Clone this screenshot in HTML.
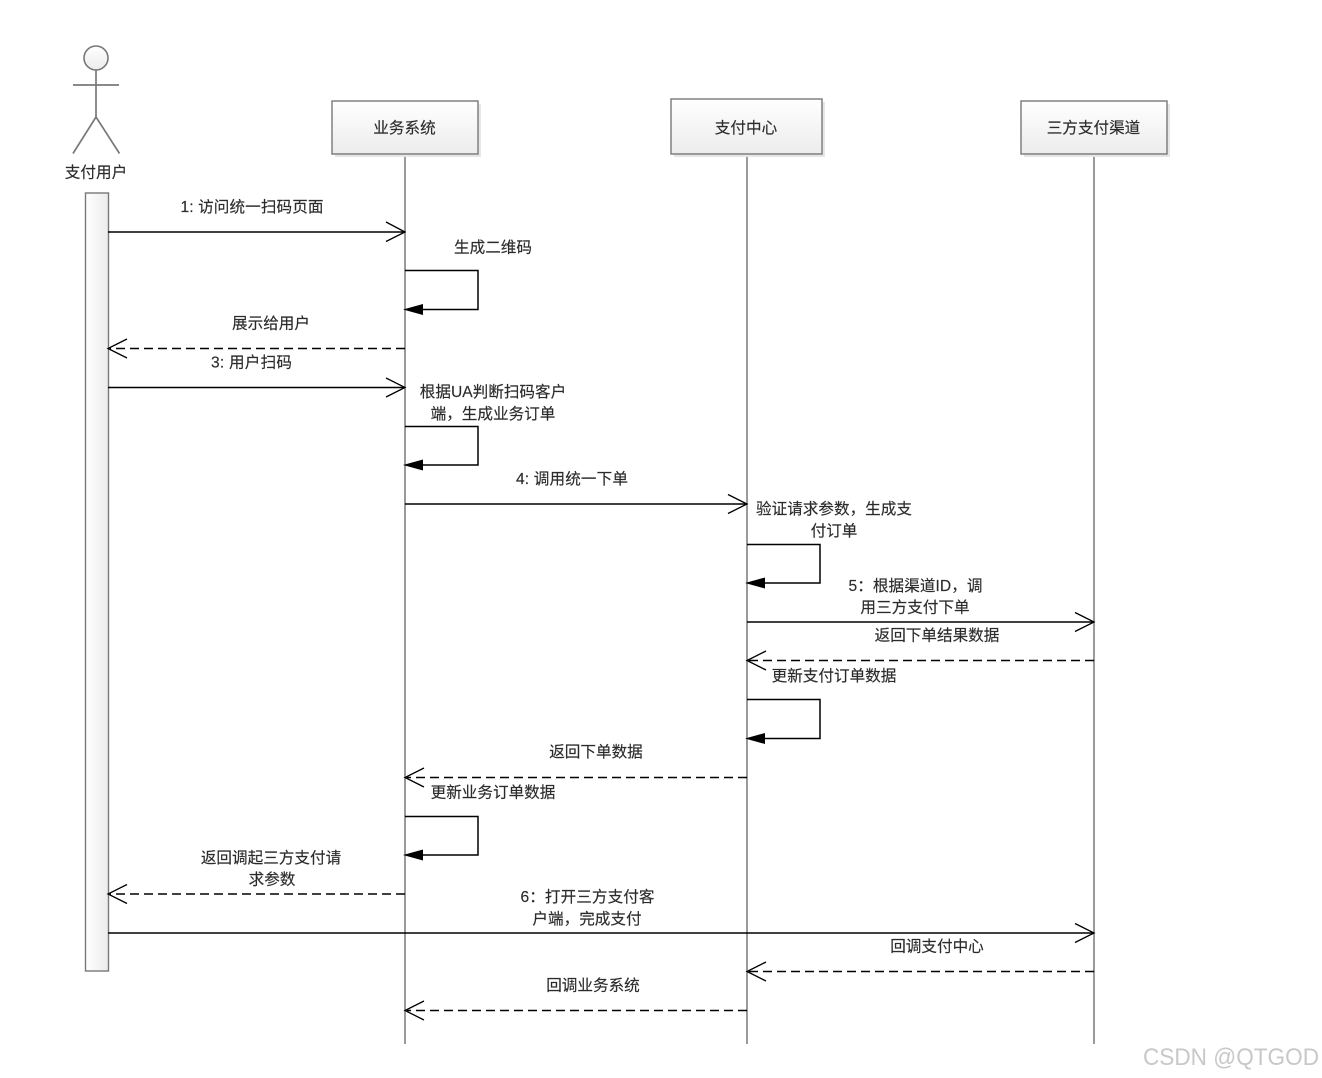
<!DOCTYPE html>
<html>
<head>
<meta charset="utf-8">
<style>
html,body{margin:0;padding:0;background:#fff;}
svg{display:block;}
text{font-family:"Liberation Sans","Noto Sans CJK SC",sans-serif;font-size:15.6px;fill:#2b2b2b;stroke:#2b2b2b;stroke-width:0.15;text-anchor:middle;}
.life{stroke:#787878;stroke-width:1.5;fill:none;}
.m{stroke:#000;stroke-width:1.5;fill:none;}
.d{stroke:#000;stroke-width:1.5;fill:none;stroke-dasharray:9 5;}
.h{stroke:#000;stroke-width:1.3;fill:none;}
.f{fill:#000;stroke:none;}
.box{fill:url(#g);stroke:#787878;stroke-width:1.4;}
.shadow{fill:#e6e6e6;stroke:none;}
.a{stroke:#787878;stroke-width:1.7;fill:none;}
</style>
</head>
<body>
<svg width="1322" height="1078" viewBox="0 0 1322 1078" xmlns="http://www.w3.org/2000/svg">
<defs>
<linearGradient id="g" x1="0" y1="0" x2="0" y2="1"><stop offset="0" stop-color="#ffffff"/><stop offset="1" stop-color="#ececec"/></linearGradient>
<linearGradient id="gb" x1="0" y1="0" x2="1" y2="0"><stop offset="0" stop-color="#ffffff"/><stop offset="1" stop-color="#ececec"/></linearGradient>
</defs>

<!-- Lifelines -->
<line class="life" x1="405" y1="154" x2="405" y2="1044"/>
<line class="life" x1="747" y1="154" x2="747" y2="1044"/>
<line class="life" x1="1094" y1="154" x2="1094" y2="1044"/>

<!-- Actor -->
<circle cx="96" cy="58" r="12" fill="url(#g)" stroke="#787878" stroke-width="1.6"/>
<line class="a" x1="96" y1="70" x2="96" y2="117"/>
<line class="a" x1="73" y1="85" x2="119" y2="85"/>
<path class="a" d="M73 153.500L96 117L119.500 153.500"/>
<text x="96" y="177.500">支付用户</text>

<!-- Boxes -->
<rect class="shadow" x="335" y="104" width="146" height="53"/>
<rect class="box" x="332" y="101" width="146" height="53"/>
<text x="404.500" y="133">业务系统</text>
<rect class="shadow" x="674" y="102" width="151" height="55"/>
<rect class="box" x="671" y="99" width="151" height="55"/>
<text x="746" y="133">支付中心</text>
<rect class="shadow" x="1024" y="104" width="146" height="53"/>
<rect class="box" x="1021" y="101" width="146" height="53"/>
<text x="1093.500" y="133">三方支付渠道</text>

<!-- Activation -->
<rect x="85.500" y="193" width="23" height="778" fill="url(#gb)" stroke="#787878" stroke-width="1.4"/>

<!-- 1 -->
<text x="252" y="212" textLength="143" lengthAdjust="spacing">1: 访问统一扫码页面</text>
<line class="m" x1="108" y1="232" x2="405" y2="232"/>
<path class="h" d="M386 222L405 232L386 241.500"/>

<!-- self 生成二维码 -->
<text x="493" y="252.500">生成二维码</text>
<path class="m" d="M405 270.500H478V309.500H420"/>
<path class="f" d="M403 309.500L423 304V315Z"/>

<!-- 展示给用户 -->
<text x="271" y="328.500">展示给用户</text>
<line class="d" x1="405" y1="348.500" x2="110" y2="348.500"/>
<path class="h" d="M127 339L108 348.500L127 358"/>

<!-- 3 -->
<text x="251.500" y="367.500" textLength="81" lengthAdjust="spacing">3: 用户扫码</text>
<line class="m" x1="108" y1="387.500" x2="405" y2="387.500"/>
<path class="h" d="M386 378L405 387.500L386 397"/>

<!-- self -->
<text x="493" y="397">根据UA判断扫码客户</text>
<text x="493" y="419">端，生成业务订单</text>
<path class="m" d="M405 426.500H478V465H420"/>
<path class="f" d="M403 465L423 459.500V470.500Z"/>

<!-- 4 -->
<text x="572" y="484" textLength="112" lengthAdjust="spacing">4: 调用统一下单</text>
<line class="m" x1="405" y1="504" x2="747" y2="504"/>
<path class="h" d="M728 494.500L747 504L728 513.500"/>

<!-- self -->
<text x="834" y="514">验证请求参数，生成支</text>
<text x="834" y="536">付订单</text>
<path class="m" d="M747 544.500H820V583H762"/>
<path class="f" d="M745 583L765 577.500V588.500Z"/>

<!-- 5 -->
<text x="915.500" y="591" textLength="134" lengthAdjust="spacing">5：根据渠道ID，调</text>
<text x="915" y="612.500">用三方支付下单</text>
<line class="m" x1="747" y1="622" x2="1094" y2="622"/>
<path class="h" d="M1075 612.500L1094 622L1075 631.500"/>

<!-- return -->
<text x="937" y="640.500">返回下单结果数据</text>
<line class="d" x1="1094" y1="660.500" x2="749" y2="660.500"/>
<path class="h" d="M766 651L747 660.500L766 670"/>

<!-- self -->
<text x="834" y="681">更新支付订单数据</text>
<path class="m" d="M747 699.500H820V738.500H762"/>
<path class="f" d="M745 738.500L765 733V744Z"/>

<!-- return -->
<text x="596" y="757">返回下单数据</text>
<line class="d" x1="747" y1="777.500" x2="407" y2="777.500"/>
<path class="h" d="M424 768L405 777.500L424 787"/>

<!-- self -->
<text x="493" y="797.500">更新业务订单数据</text>
<path class="m" d="M405 816.500H478V855H420"/>
<path class="f" d="M403 855L423 849.500V860.500Z"/>

<!-- return -->
<text x="271" y="863">返回调起三方支付请</text>
<text x="272" y="884.500">求参数</text>
<line class="d" x1="405" y1="894" x2="110" y2="894"/>
<path class="h" d="M127 884.500L108 894L127 903.500"/>

<!-- 6 -->
<text x="587.500" y="902" textLength="134" lengthAdjust="spacing">6：打开三方支付客</text>
<text x="587" y="924">户端，完成支付</text>
<line class="m" x1="108" y1="933" x2="1094" y2="933"/>
<path class="h" d="M1075 923.500L1094 933L1075 942.500"/>

<!-- callback -->
<text x="937" y="951.500">回调支付中心</text>
<line class="d" x1="1094" y1="971.500" x2="749" y2="971.500"/>
<path class="h" d="M766 962L747 971.500L766 981"/>

<text x="593" y="990.500">回调业务系统</text>
<line class="d" x1="747" y1="1010.500" x2="407" y2="1010.500"/>
<path class="h" d="M424 1001L405 1010.500L424 1020"/>

<!-- Watermark -->
<text x="1231" y="1065" textLength="176" lengthAdjust="spacingAndGlyphs" style="font-size:24px;fill:#c8c8c8;stroke:none;">CSDN @QTGOD</text>
</svg>
</body>
</html>
